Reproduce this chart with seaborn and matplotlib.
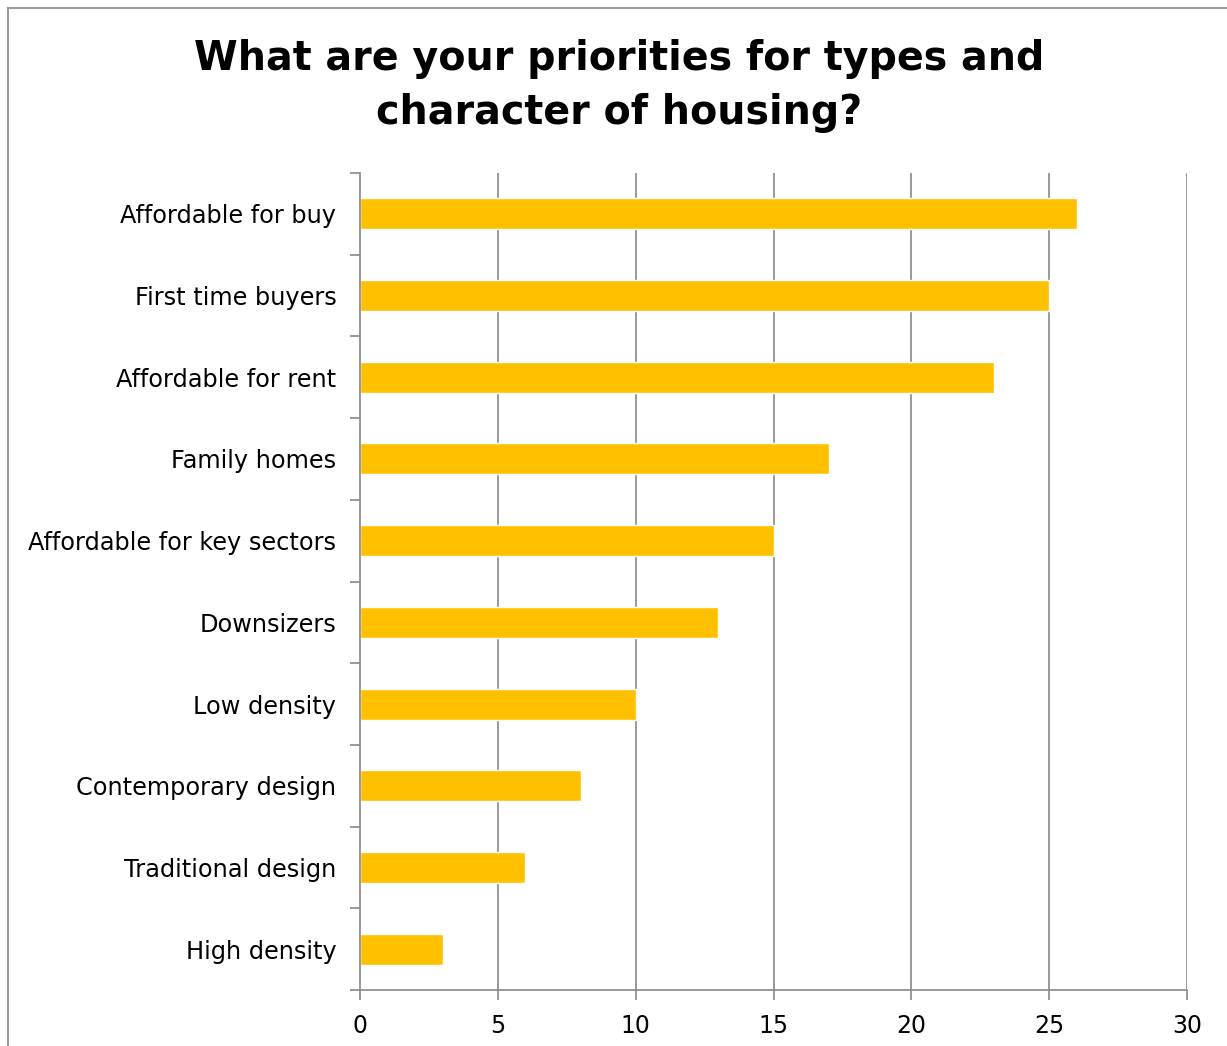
import matplotlib
matplotlib.use("Agg")
import matplotlib.pyplot as plt
import seaborn as sns
import pandas as pd
import numpy as np
from matplotlib.patches import Rectangle

categories = ["Affordable for buy", "First time buyers", "Affordable for rent",
              "Family homes", "Affordable for key sectors", "Downsizers",
              "Low density", "Contemporary design", "Traditional design",
              "High density"]
values = [26, 25, 23, 17, 15, 13, 10, 8, 6, 3]
xticks = [0, 5, 10, 15, 20, 25, 30]
title = "What are your priorities for types and\ncharacter of housing?"

sns.set_theme(style="white")
plt.rcParams['font.family'] = ['DejaVu Sans']
plt.rcParams['text.color'] = 'black'
plt.rcParams['xtick.color'] = 'black'
plt.rcParams['ytick.color'] = 'black'

W, H = 1227, 1046
fig = plt.figure(figsize=(W/100, H/100), dpi=100)
ax = fig.add_axes([360/W, 1-990/H, (1187-360)/W, (990-173)/H])

df = pd.DataFrame({"cat": categories, "val": values})
sns.barplot(data=df, x="val", y="cat", orient="h", color="#FFC000",
            saturation=1, width=0.38, ax=ax)

grid_c = "#888888"
ax.set_xlim(0, 30)
ax.set_ylim(len(categories)-0.5, -0.5)
ax.set_xticks(xticks)
ax.set_xticklabels([str(t) for t in xticks], fontsize=17, color="black")
for x in xticks[1:]:
    ax.axvline(x, color=grid_c, lw=1.2, zorder=0)
ax.set_xlabel("")
ax.set_ylabel("")
ax.tick_params(axis="y", which="major", left=True, length=0, pad=17,
               labelsize=17.3, labelcolor="black")
ax.set_yticks(np.arange(-0.5, len(categories)), minor=True)
ax.tick_params(axis="y", which="minor", left=True, length=7, color=grid_c,
               width=1.2, direction="out")
ax.tick_params(axis="x", which="major", bottom=True, length=7, color=grid_c,
               width=1.2, direction="out", pad=10)
for s in ["top", "right"]:
    ax.spines[s].set_visible(False)
for s in ["left", "bottom"]:
    ax.spines[s].set_color(grid_c)
    ax.spines[s].set_linewidth(1.2)
ax.set_facecolor("white")

fig.text(619/W, 1-86/H, title, ha="center", va="center", fontsize=28.5,
         fontweight="bold", linespacing=1.45, color="black")

fig.patches.append(Rectangle((8/W, -0.1), 1.2, 1-8/H+0.1, transform=fig.transFigure,
                             fill=False, edgecolor="#999999", lw=1.5))

fig.savefig("out.png", dpi=100, facecolor="white")
